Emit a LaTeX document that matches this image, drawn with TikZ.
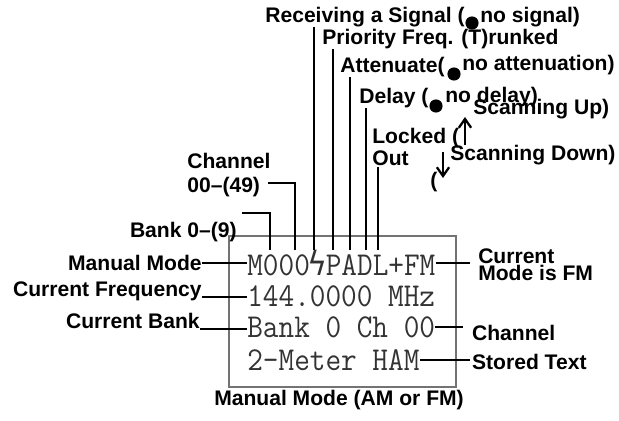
\documentclass[tikz,border=0pt]{standalone}
\usepackage{fontspec}
\setmainfont{Liberation Sans}
\newfontfamily\symfont{DejaVu Sans}
\usetikzlibrary{arrows.meta}
\newcommand{\lblfont}{\bfseries\fontsize{12}{13.6}\selectfont}
\newcommand{\lcdfont}{\ttfamily\fontsize{19}{19}\selectfont}
\newcommand{\bolt}{\makebox[0.525em]{\symfont\fontsize{19}{19}\selectfont ϟ}}

\begin{document}
\begin{tikzpicture}[x=0.02cm,y=-0.02cm,>={Straight Barb[length=5pt,width=7pt]},
 lbl/.style={font=\lblfont,inner sep=0pt},
 lcd/.style={font=\lcdfont,text=black!80,inner sep=0pt,xscale=0.91,anchor=west},
 lead/.style={line width=1pt},
 dot/.style={circle,fill,inner sep=0pt,minimum size=7.5}]
\useasboundingbox (0,0) rectangle (619,421);
% display
\draw[black!55,line width=0.7pt](229,236) rectangle (456,387);
\node[lcd](lcdA) at (247,263){M000\bolt PADL+FM};
\node[lcd](lcdB) at (247,296){144.0000 MHz};
\node[lcd](lcdC) at (247,327){Bank 0 Ch 00};
\node[lcd](lcdD) at (247,360){2-Meter HAM};
% where the top leaders meet the first line
\coordinate (cBank) at (270,250);
\coordinate (cChan) at (295,250);
\coordinate (cSig) at (314,250);
\coordinate (cPrio) at (333,250);
\coordinate (cAtt) at (350,250);
\coordinate (cDel) at (366,250);
\coordinate (cLock) at (378,250);
% top labels
\node[lbl,anchor=west](sigA) at (265,17){Receiving a Signal (};
\node[lbl,anchor=west](sigB) at (480,17){no signal)};
\node[dot](sigdot) at (472,23){};
\node[lbl,anchor=west](prio) at (322,39){Priority Freq. (T)runked};
\node[lbl,anchor=west](attA) at (340,67){Attenuate(};
\node[lbl,anchor=west](attB) at (462,65){no attenuation)};
\node[dot](attdot) at (454,74){};
\node[lbl,anchor=west](delA) at (359,98){Delay (};
\node[lbl,anchor=west](delB) at (445,97){no delay)};
\node[dot](deldot) at (436,106){};
\node[lbl,anchor=west](scanup) at (473,109){Scanning Up)};
\node[lbl,anchor=west,align=left](locked) at (372,147){Locked (\\[-0.6pt]Out};
\node[lbl,anchor=west](scandn) at (450,155){Scanning Down)};
\node[lbl,anchor=west](paren) at (430,182){(};
\coordinate (upA) at (465,145);
\coordinate (upB) at (465,117);
\coordinate (dnA) at (443,152);
\coordinate (dnB) at (443,178);
\draw[line width=1.3pt,->](upA) -- (upB);
\draw[line width=1.3pt,->](dnA) -- (dnB);
\node[lbl,anchor=west,align=left](chan) at (187,175){Channel\\00–(49)};
\node[lbl,anchor=east](bank) at (237,232){Bank 0–(9)};
\coordinate (chanA) at (268,183);
\coordinate (bankA) at (242,213);
% side labels
\node[lbl,anchor=east](manual) at (202,263){Manual Mode};
\node[lbl,anchor=base east](cfreq) at (202,297){Current Frequency};
\node[lbl,anchor=base east](cbank) at (200,329){Current Bank};
\node[lbl,anchor=west,align=left,inner xsep=4.5pt](curmode) at (470,265){Current\\[-4pt]Mode is FM};
\node[lbl,anchor=west,inner xsep=5pt](chlbl) at (463,333){Channel};
\node[lbl,anchor=west,inner xsep=1pt](stored) at (470,362){Stored Text};
\node[lbl](caption) at (339,400){Manual Mode (AM or FM)};
% leaders
\draw[lead](bankA) -| (cBank);
\draw[lead](chanA) -| (cChan);
\draw[lead](cSig |- sigA.south) -- (cSig);
\draw[lead](cPrio |- prio.south) -- (cPrio);
\draw[lead](cAtt |- attA.south) -- (cAtt);
\draw[lead](cDel |- delA.south) -- (cDel);
\draw[lead](cLock |- locked.south) -- (cLock);
\draw[lead](manual.east) -- (manual.east -| lcdA.west);
\draw[lead](cfreq.base east) -- (cfreq.base east -| lcdB.west);
\draw[lead](cbank.base east) -- (cbank.base east -| lcdC.west);
\draw[lead](lcdA.east) -- (lcdA.east -| curmode.west);
\draw[lead](lcdC.east) -- (lcdC.east -| chlbl.west);
\draw[lead](lcdD.east) -- (lcdD.east -| stored.west);
\end{tikzpicture}
\end{document}
